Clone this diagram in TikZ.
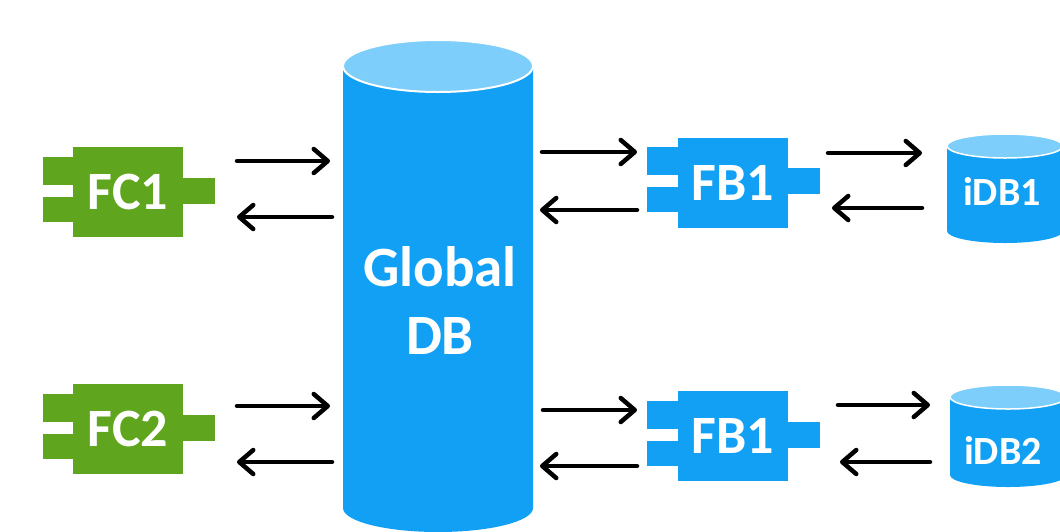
\documentclass[tikz,border=0pt]{standalone}
\usepackage{fontspec}
\setmainfont{Carlito}
\usetikzlibrary{arrows.meta}
\definecolor{fcgreen}{RGB}{96,165,30}
\definecolor{fbblue}{RGB}{18,160,245}
\definecolor{dbtop}{RGB}{125,206,250}
\tikzset{
  blocktext/.style={font=\fontsize{54}{68}\selectfont\bfseries, text=white, inner sep=0pt},
  bigtext/.style={font=\fontsize{57}{68}\selectfont\bfseries, text=white, inner sep=0pt},
  dbtext/.style={font=\fontsize{40}{44}\selectfont\bfseries, text=white, inner sep=0pt},
  flow/.style={line width=4.5pt, line cap=round, -{Straight Barb[length=14pt,width=24pt,round]}},
  blockbody/.style={minimum width=110pt, minimum height=90pt, blocktext},
}
\newcommand{\fblock}[4]{%
  \node[blockbody, fill=#3] (#1) at (#2) {#4};
  \fill[#3] ([shift={(-30,10)}]#1.north west) rectangle ([shift={(1,38)}]#1.north west);
  \fill[#3] ([shift={(-30,50)}]#1.north west) rectangle ([shift={(1,75)}]#1.north west);
  \fill[#3] ([shift={(-1,31)}]#1.north east) rectangle ([shift={(32,57)}]#1.north east);
}
\begin{document}
\begin{tikzpicture}[x=1pt,y=-1pt]
\useasboundingbox (0,0) rectangle (1060,531);
\clip (0,0) rectangle (1060,531);
\fill[white] (0,0) rectangle (1060,531);

% Global DB cylinder
\fill[fbblue] (343,66) -- (343,508) arc[start angle=180,end angle=0,x radius=95,y radius=24] -- (533,66) -- cycle;
\filldraw[fill=dbtop, draw=white, line width=2pt] (438,66) ellipse [x radius=95, y radius=26];
\node[bigtext, align=center] (gdb) at (440,300) {Global\\DB};

% function blocks
\fblock{fc1}{128,192}{fcgreen}{FC1}
\fblock{fc2}{128,429}{fcgreen}{FC2}
\fblock{fbtop}{732.5,182.5}{fbblue}{FB1}
\fblock{fbbot}{732.5,436}{fbblue}{FB1}

% instance DBs
\fill[fbblue] (947,146) -- (947,231) arc[start angle=180,end angle=0,x radius=58,y radius=12] -- (1063,146) -- cycle;
\filldraw[fill=dbtop, draw=white, line width=1.5pt] (1005,146) ellipse [x radius=58, y radius=12];
\node[dbtext] (idb1) at (1002,191.5) {iDB1};
\fill[fbblue] (950,397) -- (950,475) arc[start angle=180,end angle=0,x radius=58,y radius=12] -- (1066,397) -- cycle;
\filldraw[fill=dbtop, draw=white, line width=1.5pt] (1008,397) ellipse [x radius=58, y radius=12];
\node[dbtext] (idb2) at (1003,450) {iDB2};

% arrow end points
\coordinate (a1s) at (237,161); \coordinate (a1e) at (330,161);
\coordinate (a2s) at (332,217); \coordinate (a2e) at (237,217);
\coordinate (a3s) at (237,406); \coordinate (a3e) at (330,406);
\coordinate (a4s) at (332,462); \coordinate (a4e) at (237,462);
\coordinate (b1s) at (542,152); \coordinate (b1e) at (637,152);
\coordinate (b2s) at (637,210); \coordinate (b2e) at (540,210);
\coordinate (b3s) at (543,410); \coordinate (b3e) at (637,410);
\coordinate (b4s) at (637,466); \coordinate (b4e) at (540,466);
\coordinate (c1s) at (828,153); \coordinate (c1e) at (922,153);
\coordinate (c2s) at (922,208); \coordinate (c2e) at (832,208);
\coordinate (c3s) at (838,405); \coordinate (c3e) at (930,405);
\coordinate (c4s) at (930,462); \coordinate (c4e) at (840,462);

\foreach \p in {a1,a2,a3,a4,b1,b2,b3,b4,c1,c2,c3,c4}
  \draw[flow] (\p s) -- (\p e);
\end{tikzpicture}
\end{document}
